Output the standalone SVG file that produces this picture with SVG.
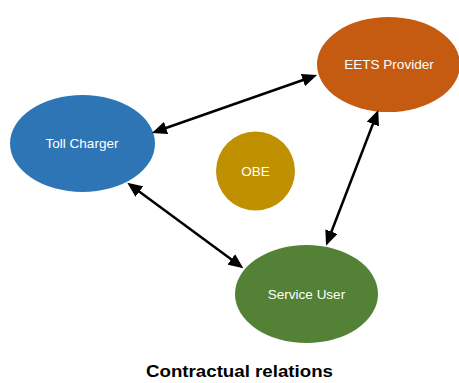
<svg xmlns="http://www.w3.org/2000/svg" width="459" height="383" viewBox="0 0 459 383">
  <defs>
    <marker id="head" viewBox="0 0 15 13" refX="7" refY="6.5" markerWidth="15" markerHeight="13" markerUnits="userSpaceOnUse" orient="auto-start-reverse">
      <path d="M0,0 L15,6.5 L0,13 z" fill="#000"/>
    </marker>
    <style>
      .label { font-family: "Liberation Sans", Arial, sans-serif; font-size: 13.5px; fill: #ffffff; text-anchor: middle; }
      .link { stroke: #000; stroke-width: 2.5; fill: none; marker-start: url(#head); marker-end: url(#head); }
      .title { font-family: "Liberation Sans", Arial, sans-serif; font-size: 17px; font-weight: bold; fill: #000; text-anchor: middle; }
    </style>
  </defs>
  <rect width="459" height="383" fill="#ffffff"/>

  <g id="toll-charger">
    <ellipse cx="82.5" cy="143.5" rx="72.5" ry="48.5" fill="#2E75B6"/>
    <text class="label" x="82" y="148">Toll Charger</text>
  </g>

  <g id="eets-provider">
    <ellipse cx="388.5" cy="64.5" rx="71.5" ry="47.5" fill="#C55A11"/>
    <text class="label" x="389" y="69">EETS Provider</text>
  </g>

  <g id="service-user">
    <ellipse cx="306.5" cy="294" rx="71.5" ry="49" fill="#538135"/>
    <text class="label" x="306.5" y="298.5">Service User</text>
  </g>

  <g id="obe">
    <circle cx="255.5" cy="171" r="39.5" fill="#BF9000"/>
    <text class="label" x="255.5" y="175.5">OBE</text>
  </g>

  <g id="connectors">
    <line class="link" x1="159.5" y1="130.3" x2="309.5" y2="77.7"/>
    <line class="link" x1="133.7" y1="187.4" x2="236.9" y2="263.6"/>
    <line class="link" x1="375.4" y1="117.5" x2="328.9" y2="238.2"/>
  </g>

  <text class="title" x="239.5" y="377" textLength="187" lengthAdjust="spacingAndGlyphs">Contractual relations</text>
</svg>
